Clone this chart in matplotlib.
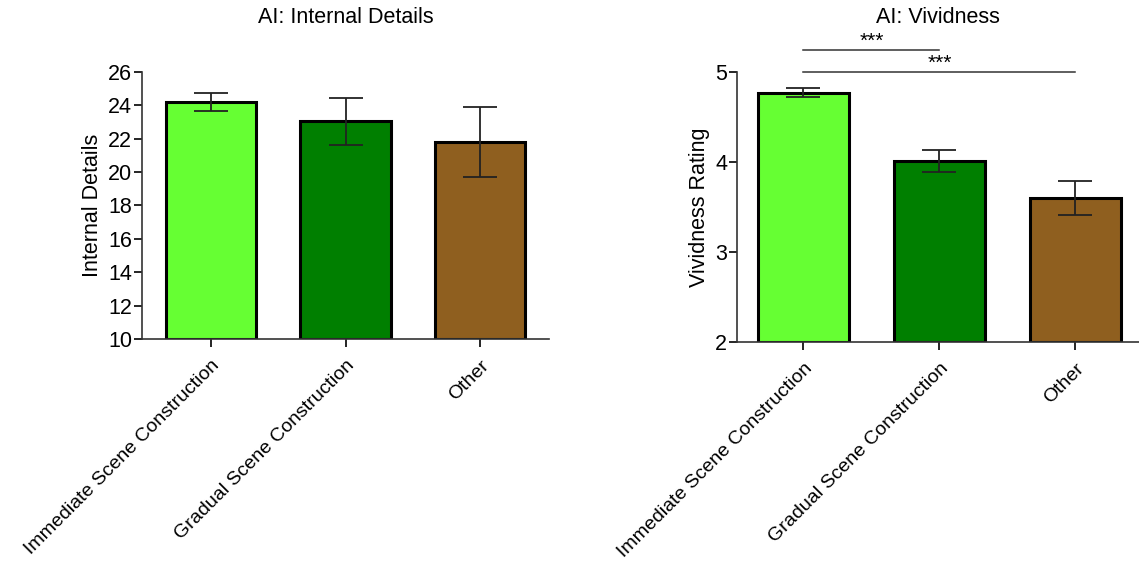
import matplotlib.pyplot as plt
import numpy as np

plt.rcParams['font.family'] = ['Liberation Sans', 'DejaVu Sans']

# groups and colours
groups = ['Immediate Scene Construction', 'Gradual Scene Construction', 'Other']
colors = ['#66ff33', '#007f00', '#8f5f1f']

# internal details: mean and error half-width
details_mean = [24.2, 23.05, 21.8]
details_err = [0.55, 1.4, 2.1]

# vividness rating: mean and error half-width
vivid_mean = [4.77, 4.01, 3.60]
vivid_err = [0.05, 0.125, 0.19]

# significance brackets: (from group, to group, height, label)
vivid_sig = [(0, 1, 5.24, '***'), (0, 2, 5.0, '***')]


def draw_bars(ax, means, errs, bottom, ylim, ticks, ylabel, title):
    x = np.arange(len(groups))
    ax.bar(x, np.asarray(means) - bottom, bottom=bottom, width=0.67,
           color=colors, edgecolor='black', linewidth=2.2, zorder=2)
    ax.errorbar(x, means, yerr=errs, fmt='none', ecolor='#222222',
                elinewidth=1.3, capsize=12.5, capthick=1.3, zorder=3)
    ax.set_ylim(*ylim)
    ax.set_yticks(ticks)
    ax.set_xticks(x)
    ax.set_xticklabels(groups, rotation=45, ha='right', rotation_mode='anchor',
                       fontsize=14)
    ax.tick_params(axis='y', labelsize=15.5, length=6, width=1.2, pad=1)
    ax.tick_params(axis='x', length=6, width=1.2, pad=7)
    ax.set_ylabel(ylabel, fontsize=15.5, labelpad=4)
    ax.set_title(title, fontsize=15.5, pad=35)
    for side in ['top', 'right']:
        ax.spines[side].set_visible(False)
    for side in ['left', 'bottom']:
        ax.spines[side].set_linewidth(1.2)
        ax.spines[side].set_color('#333333')


fig = plt.figure(figsize=(11.39, 5.61), dpi=100)

ax1 = fig.add_axes([0.1247, 0.3957, 0.3573, 0.476])
draw_bars(ax1, details_mean, details_err, 10, (10, 26), range(10, 27, 2),
          'Internal Details', 'AI: Internal Details')
ax1.set_xlim(-0.51, 2.51)

ax2 = fig.add_axes([0.647, 0.3904, 0.353, 0.4813])
draw_bars(ax2, vivid_mean, vivid_err, 2, (2, 5), [2, 3, 4, 5],
          'Vividness Rating', 'AI: Vividness')
ax2.set_xlim(-0.49, 2.47)

# significance lines above the vividness bars
for a, b, h, label in vivid_sig:
    ax2.plot([a, b], [h, h], color='#333333', linewidth=1.1, clip_on=False)
    ax2.text((a + b) / 2, h - 0.01, label, ha='center', va='bottom',
             fontsize=15, clip_on=False)

fig.savefig('out.png', dpi=100)
